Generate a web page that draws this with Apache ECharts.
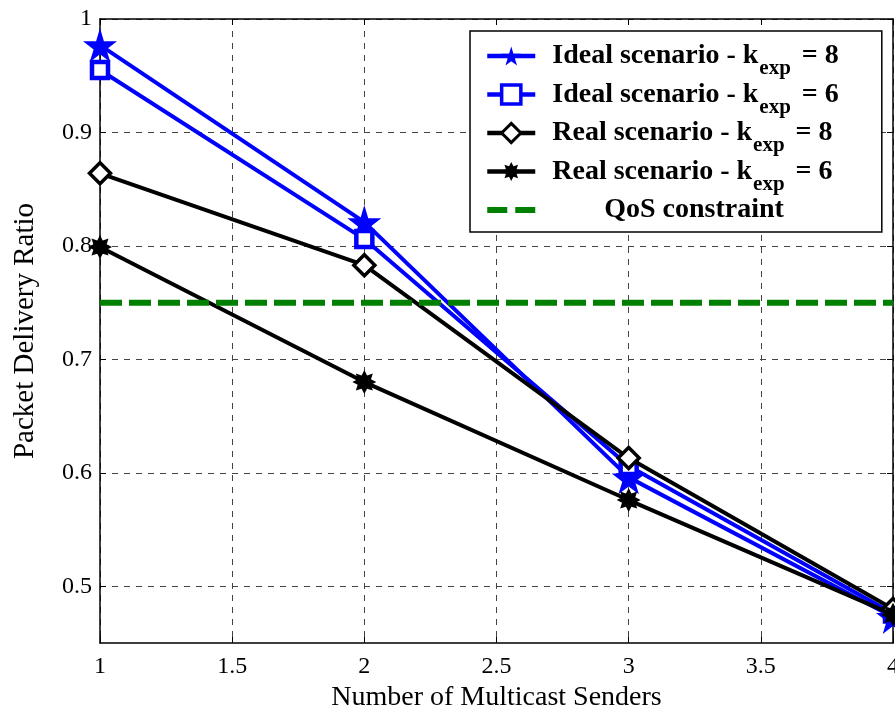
<!DOCTYPE html>
<html><head><meta charset="utf-8">
<script src="https://cdn.jsdelivr.net/npm/echarts@6/dist/echarts.min.js"></script>
<style>html,body{margin:0;padding:0;background:#fff}#c{width:895px;height:709px}</style>
</head><body><div id="c"></div>
<script>
const senders = [1, 2, 3, 4];
const ideal8 = [0.977, 0.821, 0.596, 0.473];
const ideal6 = [0.955, 0.806, 0.606, 0.476];
const real8 = [0.864, 0.783, 0.613, 0.480];
const real6 = [0.799, 0.680, 0.576, 0.475];
const qos = [0.75, 0.75];
const qosX = [1, 4];
const yTicks = [0.5, 0.6, 0.7, 0.8, 0.9, 1];
const names = ['Ideal scenario - k_8', 'Ideal scenario - k_6', 'Real scenario - k_8', 'Real scenario - k_6', 'QoS constraint'];

const STAR = 'path://M50,0 L61,35 L98,35 L68,57 L79,91 L50,70 L21,91 L32,57 L2,35 L39,35 Z';
function burst() {
  let p = 'path://';
  for (let i = 0; i < 16; i++) {
    const r = i % 2 === 0 ? 50 : 30;
    const a = Math.PI * i / 8;
    p += (i === 0 ? 'M' : 'L') + (50 + r * Math.sin(a)).toFixed(1) + ',' + (50 - r * Math.cos(a)).toFixed(1) + ' ';
  }
  return p + 'Z';
}
const ASTER = burst();
const DASHES = 'path://M0,0 L20,0 L20,6 L0,6 Z M28,0 L48,0 L48,6 L28,6 Z';
const pairs = (xs, ys) => xs.map((x, i) => [x, ys[i]]);

const font = 'Liberation Serif';
const legendItems = names.map((n, i) => {
  if (i === 4) return { name: n, icon: DASHES, itemStyle: { color: '#008000' } };
  if (i === 1) return { name: n, itemStyle: { borderWidth: 3.5 } };
  if (i === 2) return { name: n, itemStyle: { borderWidth: 3 } };
  return { name: n };
});
const chart = echarts.init(document.getElementById('c'));
chart.setOption({
  animation: false,
  backgroundColor: '#fff',
  grid: { left: 100, top: 19, right: 2, bottom: 66, show: false, outerBoundsMode: 'none', containLabel: false },
  xAxis: [{
    type: 'value', min: 1, max: 4, interval: 0.5, position: 'bottom',
    name: 'Number of Multicast Senders', nameLocation: 'middle', nameGap: 36,
    nameTextStyle: { fontFamily: font, fontSize: 28, color: '#000' },
    axisLine: { show: true, onZero: false, lineStyle: { color: '#000', width: 1.5 } },
    axisTick: { show: true, inside: true, length: 6, lineStyle: { color: '#000' } },
    axisLabel: { fontFamily: font, fontSize: 24, color: '#000', margin: 12 },
    splitLine: { show: true, lineStyle: { color: '#444', type: [6, 6], width: 1 } }
  }, {
    type: 'value', min: 1, max: 4, interval: 0.5, position: 'top',
    axisLine: { show: true, onZero: false, lineStyle: { color: '#000', width: 1.5 } },
    axisTick: { show: true, inside: true, length: 6, lineStyle: { color: '#000' } },
    axisLabel: { show: false }, splitLine: { show: false }
  }],
  yAxis: [{
    type: 'value', min: 0.45, max: 1, position: 'left',
    name: 'Packet Delivery Ratio', nameLocation: 'middle', nameGap: 60, nameRotate: 90,
    nameTextStyle: { fontFamily: font, fontSize: 29, color: '#000' },
    axisLine: { show: true, onZero: false, lineStyle: { color: '#000', width: 1.5 } },
    axisTick: { show: true, inside: true, length: 6, customValues: yTicks, lineStyle: { color: '#000' } },
    axisLabel: { fontFamily: font, fontSize: 24, color: '#000', margin: 8, customValues: yTicks },
    splitLine: { show: true, lineStyle: { color: '#444', type: [6, 6], width: 1 } }
  }, {
    type: 'value', min: 0.45, max: 1, position: 'right',
    axisLine: { show: true, onZero: false, lineStyle: { color: '#000', width: 1.5 } },
    axisTick: { show: true, inside: true, length: 6, customValues: yTicks, lineStyle: { color: '#000' } },
    axisLabel: { show: false }, splitLine: { show: false }
  }],
  legend: {
    orient: 'vertical', left: 470, top: 31,
    padding: [11, 43, 8, 15], itemGap: 1, itemWidth: 48, itemHeight: 24,
    backgroundColor: '#fff', borderColor: '#000', borderWidth: 1.5,
    lineStyle: { width: 4.5 },
    data: legendItems,
    formatter: function (n) {
      if (n === 'QoS constraint') return '{q|QoS constraint}';
      const parts = n.split('_');
      return '{t|' + parts[0] + '}{s|exp}{e| = ' + parts[1] + '}';
    },
    textStyle: {
      fontFamily: font, fontWeight: 'bold', fontSize: 28, color: '#000', lineHeight: 28,
      rich: {
        t: { fontFamily: font, fontWeight: 'bold', fontSize: 28, color: '#000', padding: [0, 0, 0, 12], lineHeight: 28, verticalAlign: 'middle' },
        e: { fontFamily: font, fontWeight: 'bold', fontSize: 28, color: '#000', padding: [0, 0, 0, 4], lineHeight: 28, verticalAlign: 'middle' },
        s: { fontFamily: font, fontWeight: 'bold', fontSize: 21, color: '#000', padding: [13, 0, -13, 1], lineHeight: 28, verticalAlign: 'middle' },
        q: { fontFamily: font, fontWeight: 'bold', fontSize: 28, color: '#000', padding: [0, 0, 0, 64], lineHeight: 28, verticalAlign: 'middle' }
      }
    }
  },
  series: [
    { name: names[0], type: 'line', data: pairs(senders, ideal8), symbol: STAR, symbolSize: 34,
      lineStyle: { color: '#0000ff', width: 4 }, itemStyle: { color: '#0000ff' }, z: 2 },
    { name: names[1], type: 'line', data: pairs(senders, ideal6), symbol: 'rect', symbolSize: 16,
      lineStyle: { color: '#0000ff', width: 4 }, itemStyle: { color: '#fff', borderColor: '#0000ff', borderWidth: 4.5 }, z: 2 },
    { name: names[2], type: 'line', data: pairs(senders, real8), symbol: 'diamond', symbolSize: 21,
      lineStyle: { color: '#000', width: 4 }, itemStyle: { color: '#fff', borderColor: '#000', borderWidth: 3.5 }, z: 3 },
    { name: names[3], type: 'line', data: pairs(senders, real6), symbol: ASTER, symbolSize: 24,
      lineStyle: { color: '#000', width: 4 }, itemStyle: { color: '#000' }, z: 3 },
    { name: names[4], type: 'line', data: pairs(qosX, qos), symbol: 'none',
      lineStyle: { color: '#008000', width: 6, type: [22, 7] }, itemStyle: { color: '#008000' }, z: 4 }
  ]
});
</script></body></html>
